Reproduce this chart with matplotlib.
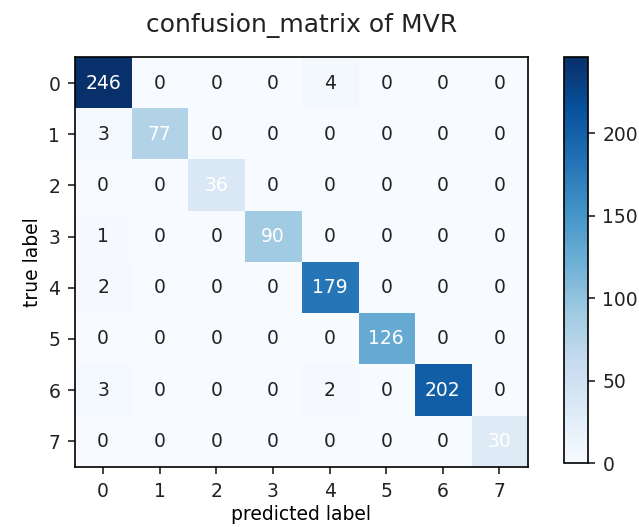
from __future__ import annotations

import matplotlib

matplotlib.use("Agg")

import matplotlib.pyplot as plt
import numpy as np


TITLE = "confusion_matrix of MVR"
CLASS_LABELS = ["0", "1", "2", "3", "4", "5", "6", "7"]

# one list per true label, columns are predicted labels 0..7
TRUE_0 = [246, 0, 0, 0, 4, 0, 0, 0]
TRUE_1 = [3, 77, 0, 0, 0, 0, 0, 0]
TRUE_2 = [0, 0, 36, 0, 0, 0, 0, 0]
TRUE_3 = [1, 0, 0, 90, 0, 0, 0, 0]
TRUE_4 = [2, 0, 0, 0, 179, 0, 0, 0]
TRUE_5 = [0, 0, 0, 0, 0, 126, 0, 0]
TRUE_6 = [3, 0, 0, 0, 2, 0, 202, 0]
TRUE_7 = [0, 0, 0, 0, 0, 0, 0, 30]

COLORBAR_TICKS = [0, 50, 100, 150, 200]

OUTPUT = "out.png"
DPI = 150
SMALL = 9


def build_matrix() -> np.ndarray:
    return np.array([TRUE_0, TRUE_1, TRUE_2, TRUE_3, TRUE_4, TRUE_5, TRUE_6, TRUE_7])


def plot_confusion(conf_mat: np.ndarray) -> None:
    fig = plt.figure(figsize=(639 / DPI, 527 / DPI), dpi=DPI)
    ax = fig.add_axes([0.117, 0.114, 0.709, 0.777])
    cax = fig.add_axes([0.883, 0.121, 0.037, 0.770])

    im = ax.imshow(conf_mat, cmap="Blues", vmin=0, vmax=conf_mat.max(), aspect="auto",
                   interpolation="nearest")

    # text colour follows the row-normalised value, like mlxtend does it
    normed = conf_mat / conf_mat.sum(axis=1, keepdims=True)
    for i in range(conf_mat.shape[0]):
        for j in range(conf_mat.shape[1]):
            color = "white" if normed[i, j] > 0.5 else "#222222"
            ax.text(j, i, str(conf_mat[i, j]), ha="center", va="center", color=color,
                    fontsize=SMALL)

    ax.set_xticks(range(len(CLASS_LABELS)))
    ax.set_yticks(range(len(CLASS_LABELS)))
    ax.set_xticklabels(CLASS_LABELS)
    ax.set_yticklabels(CLASS_LABELS)
    ax.tick_params(labelsize=SMALL, colors="#222222")
    ax.set_xlabel("predicted label", fontsize=SMALL, labelpad=2)
    ax.set_ylabel("true label", fontsize=SMALL, labelpad=3)
    ax.set_title(TITLE, pad=12, color="#222222")

    cbar = fig.colorbar(im, cax=cax)
    cbar.set_ticks(COLORBAR_TICKS)
    cbar.ax.tick_params(labelsize=SMALL, colors="#222222")

    fig.savefig(OUTPUT, dpi=DPI)
    plt.close(fig)


def main() -> None:
    conf_mat = build_matrix()
    plot_confusion(conf_mat)


if __name__ == "__main__":
    main()
